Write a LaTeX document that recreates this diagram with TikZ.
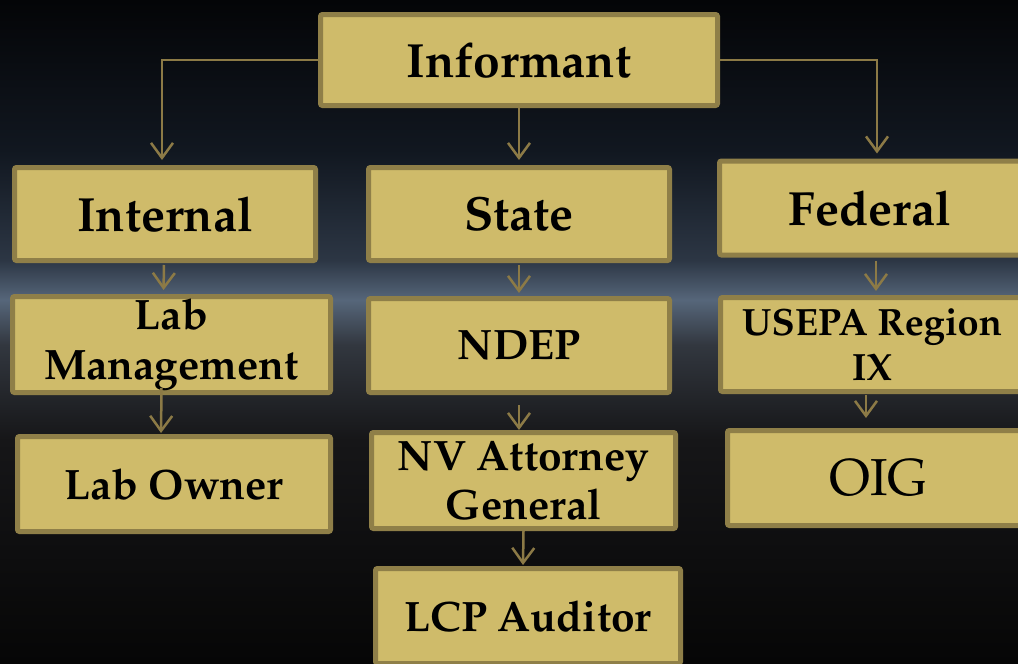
\documentclass[tikz,border=0pt]{standalone}
\usepackage[T1]{fontenc}
\usepackage{mathpazo}
\usetikzlibrary{arrows.meta}
\definecolor{boxF}{RGB}{207,187,106}
\definecolor{boxE}{RGB}{143,127,72}
\definecolor{lnkC}{RGB}{140,122,70}

\begin{document}
\begin{tikzpicture}[x=1pt,y=-1pt,
  box/.style={draw=boxE,fill=boxF,line width=5pt,rounded corners=2pt,align=center,inner sep=0pt,text=black},
  big/.style={font=\fontsize{48}{50}\selectfont\bfseries},
  mid/.style={font=\fontsize{42.5}{50}\selectfont\bfseries},
  link/.style={draw=lnkC,line width=2.5pt,-{Straight Barb[length=15pt,width=22pt]}}]
\useasboundingbox (0,0) rectangle (1018,664);
% night sky behind the chart
\begin{scope}
\clip (0,0) rectangle (1018,664);
\shade[top color={rgb,255:red,4;green,5;blue,7},bottom color={rgb,255:red,17;green,23;blue,32}] (0,0) rectangle (1018,150);
\shade[top color={rgb,255:red,17;green,23;blue,32},bottom color={rgb,255:red,44;green,54;blue,68}] (0,150) rectangle (1018,260);
\shade[top color={rgb,255:red,44;green,54;blue,68},bottom color={rgb,255:red,86;green,102;blue,122}] (0,260) rectangle (1018,300);
\shade[top color={rgb,255:red,86;green,102;blue,122},bottom color={rgb,255:red,50;green,55;blue,63}] (0,300) rectangle (1018,345);
\shade[top color={rgb,255:red,50;green,55;blue,63},bottom color={rgb,255:red,22;green,22;blue,24}] (0,345) rectangle (1018,440);
\shade[top color={rgb,255:red,22;green,22;blue,24},bottom color={rgb,255:red,6;green,6;blue,6}] (0,440) rectangle (1018,664);
\end{scope}

% boxes
\node[box,big,minimum width=397,minimum height=91] (inf) at (519,60) {Informant};
\node[box,big,minimum width=301,minimum height=93] (intl) at (165,214) {Internal};
\node[box,big,minimum width=301,minimum height=93] (state) at (519,214) {State};
\node[box,big,minimum width=301,minimum height=94] (fed) at (870,208) {Federal};

\node[box,mid,minimum width=318,minimum height=96] (labm) at (171.5,344.5) {Lab\\Management};
\node[box,mid,minimum width=313,minimum height=95] (labo) at (174,484) {Lab Owner};

\node[box,mid,minimum width=301,minimum height=94] (ndep) at (519,345.5) {NDEP};
\node[box,mid,font=\fontsize{42.5}{49}\selectfont\bfseries,minimum width=304,minimum height=96] (nvag) at (523.5,480.5) {NV Attorney\\General};
\node[box,mid,minimum width=305,minimum height=95] (lcp) at (528,616) {LCP Auditor};

\node[box,font=\fontsize{38}{45}\selectfont\bfseries,minimum width=303,minimum height=94] (usepa) at (872,344.5) {USEPA Region\\IX};
\node[box,font=\fontsize{52}{50}\selectfont,minimum width=302,minimum height=95] (oig) at (878.5,478) {OIG};

% connectors
\draw[link,shorten >=5pt] (inf.west) -| ([xshift=-3pt]intl.north);
\draw[link,shorten >=5pt] (inf.east) -| ([xshift=7pt]fed.north);
\draw[link,shorten >=5pt] (inf.south) -- (state.north);
\draw[link,shorten <=2pt,shorten >=4pt] ([xshift=-1pt]intl.south) -- ([xshift=-8pt]labm.north);
\draw[link,shorten >=1pt] ([xshift=-10pt,yshift=7pt]labm.south) -- ([xshift=-13pt]labo.north);
\draw[link,shorten <=2pt,shorten >=3pt] (state.south) -- (ndep.north);
\draw[link,shorten <=10pt,shorten >=0pt] (ndep.south) -- ([xshift=-4.5pt]nvag.north);
\draw[link,shorten >=1pt] (nvag.south) -- ([xshift=-5pt]lcp.north);
\draw[link,shorten <=3pt,shorten >=4pt] ([xshift=6pt]fed.south) -- ([xshift=4pt]usepa.north);
\draw[link,shorten <=1pt,shorten >=10pt] ([xshift=-6pt]usepa.south) -- ([xshift=-12.5pt]oig.north);
\end{tikzpicture}
\end{document}
